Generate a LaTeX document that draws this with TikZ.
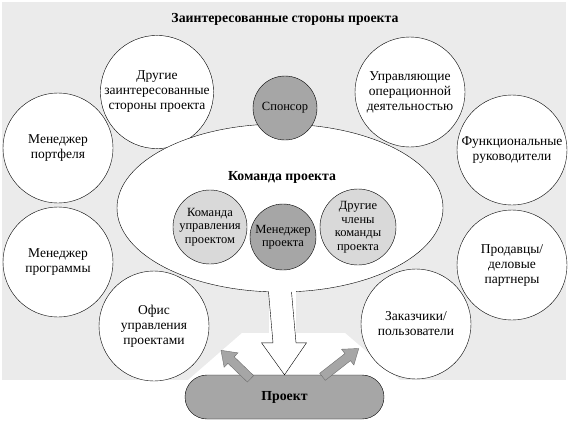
\documentclass[tikz,border=0pt]{standalone}
\usepackage{fontspec}
\setmainfont{Liberation Serif}
\usetikzlibrary{arrows.meta,positioning,calc,shapes.geometric}

\definecolor{bggray}{HTML}{EBEBEB}
\definecolor{midgray}{HTML}{A6A6A6}
\definecolor{softgray}{HTML}{D9D9D9}
\definecolor{edgegray}{HTML}{6E6E6E}

\tikzset{
  party/.style={circle, draw, fill=white, minimum size=110pt, inner sep=0pt,
    align=center, font=\fontsize{13.5}{15}\selectfont},
  member/.style={circle, draw, fill=softgray, minimum size=74pt, inner sep=0pt,
    align=center, font=\fontsize{12.5}{13.5}\selectfont},
  keyrole/.style={circle, draw, fill=midgray, inner sep=0pt,
    align=center, font=\fontsize{12.5}{13.5}\selectfont},
  heading/.style={font=\fontsize{13.8}{15}\selectfont\bfseries},
  outarrow/.style={draw=edgegray, fill=midgray}
}

\begin{document}
\begin{tikzpicture}[x=1pt, y=-1pt]
    \useasboundingbox (0,0) rectangle (569,421);
    % background of the stakeholders area
    \fill[bggray] (2,2) rectangle (566,380);
    \fill[white] (242,333) -- (345,333) -- (400,380) -- (188,380) -- cycle;

    \node[heading] (title) at (285,19) {Заинтересованные стороны проекта};

    % outer stakeholders
    \node[party] (other) at (157,92) {Другие\\заинтересованные\\стороны проекта};
    \node[party] (ops) at (410,92) {Управляющие\\операционной\\деятельностью};
    \node[party] (portfolio) at (58,148) {Менеджер\\портфеля};
    \node[party] (functional) at (512,150) {Функциональные\\руководители};
    \node[party] (program) at (58,262) {Менеджер\\программы};
    \node[party] (vendors) at (512,265) {Продавцы/\\деловые\\партнеры};
    \node[party] (pmo) at (154,326) {Офис\\управления\\проектами};
    \node[party] (customers) at (416,324) {Заказчики/\\пользователи};

    % project team
    \node[ellipse, draw, fill=white, minimum width=326pt, minimum height=168pt] (team) at (280,208) {};
    \node[keyrole, minimum size=64pt] (sponsor) at (285,108) {Спонсор};
    \node[heading] (teamlabel) at (282,177) {Команда проекта};
    \node[member] (pmteam) at (210,227) {Команда\\управления\\проектом};
    \node[member, minimum size=76pt] (members) at (358,227) {Другие\\члены\\команды\\проекта};
    \node[keyrole, minimum size=66pt] (pm) at (283,237) {Менеджер\\проекта};

    % project
    \node[draw, fill=midgray, rounded corners=22pt, minimum width=199pt, minimum height=44pt,
      heading] (proj) at (284.5,397) {Проект};

    % big arrow from the team to the project
    \coordinate (tip) at (proj.north);
    \fill[white] ($(team.south)+(-11.5,-8)$) rectangle ($(tip)+(11.5,-31)$);
    \fill[white] ($(tip)+(-23,-32)$) -- (tip) -- ($(tip)+(22,-32)$) -- cycle;
    \draw ($(team.south)+(-11.5,-0.3)$) -- ($(tip)+(-11.5,-32)$) -- ($(tip)+(-23,-32)$)
      -- (tip) -- ($(tip)+(22,-32)$) -- ($(tip)+(11.5,-32)$) -- ($(team.south)+(11.5,-0.3)$);

    % outputs of the project
    \coordinate (tailL) at ($(proj.north)+(-34,4)$);
    \coordinate (tailR) at ($(proj.north)+(38,2)$);
    \begin{scope}[shift={(tailL)}, rotate=136]
      \path[outarrow] (0,-4.5) -- (27,-4.5) -- (27,-10) -- (41,0) -- (27,10) -- (27,4.5) -- (0,4.5) -- cycle;
    \end{scope}
    \begin{scope}[shift={(tailR)}, rotate=38]
      \path[outarrow] (0,-4.5) -- (32,-4.5) -- (32,-10) -- (46,0) -- (32,10) -- (32,4.5) -- (0,4.5) -- cycle;
    \end{scope}
\end{tikzpicture}
\end{document}
